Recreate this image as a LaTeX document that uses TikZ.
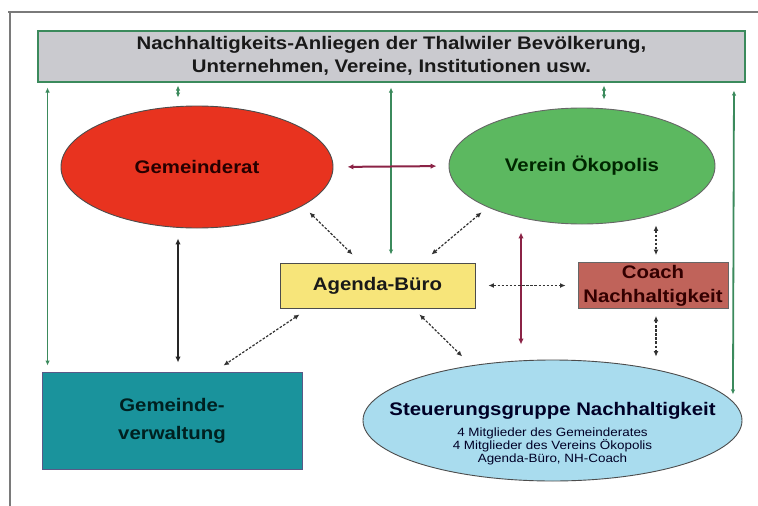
\documentclass[tikz,border=0pt]{standalone}
\usepackage{fontspec}
\setmainfont{Liberation Sans}
\newfontfamily\lsf{Liberation Sans}[FakeStretch=1.12]
\usetikzlibrary{shapes.geometric,arrows.meta}
\definecolor{framegray}{HTML}{7A7A7A}
\definecolor{topfill}{HTML}{CACACF}
\definecolor{grnline}{HTML}{3B8A5C}
\definecolor{redfill}{HTML}{E8331F}
\definecolor{greenfill}{HTML}{5CB860}
\definecolor{yellowfill}{HTML}{F7E57A}
\definecolor{coachfill}{HTML}{C0635A}
\definecolor{tealfill}{HTML}{1A939C}
\definecolor{bluefill}{HTML}{A9DCEE}
\definecolor{maroon}{HTML}{8B2346}
\definecolor{darkline}{HTML}{333333}
\tikzset{
  bigtext/.style={font=\lsf\bfseries\fontsize{18.2}{23}\selectfont, align=center},
  ell/.style={ellipse, draw=#1, line width=0.9pt, inner sep=0pt},
  boxn/.style={rectangle, draw=#1, line width=0.9pt, inner sep=0pt},
  greenarr/.style={draw=grnline, line width=1.8pt, {Latex[length=5pt,width=4.5pt]}-{Latex[length=5pt,width=4.5pt]}},
  maroonarr/.style={draw=maroon, line width=2pt, {Latex[length=6pt,width=5.5pt]}-{Latex[length=6pt,width=5.5pt]}},
  blackarr/.style={draw=black!85, line width=2.2pt, {Latex[length=6pt,width=5.5pt]}-{Latex[length=6pt,width=5.5pt]}},
  dasharr/.style={draw=darkline, line width=1.2pt, dash pattern=on 2.5pt off 1.6pt, {Latex[length=5.5pt,width=5pt]}-{Latex[length=5.5pt,width=5pt]}},
}
\begin{document}
\begin{tikzpicture}[x=1pt,y=-1pt]
\useasboundingbox (0,0) rectangle (758,506);
\fill[white] (0,0) rectangle (758,506);
% outer frame
\draw[framegray, line width=1.5pt] (8,12) -- (758,12);
\draw[framegray, line width=1.5pt] (10,12) -- (10,506);

% nodes
\node[boxn=grnline, line width=2pt, fill=topfill, minimum width=707pt, minimum height=51pt, bigtext, text=black!90] (top) at (391.5,56)
  {Nachhaltigkeits-Anliegen der Thalwiler Bevölkerung,\\Unternehmen, Vereine, Institutionen usw.};
\node[ell=black!70, fill=redfill, minimum width=272pt, minimum height=122pt, bigtext, text=black!85!red] (gr) at (197,167) {Gemeinderat};
\node[ell=black!60, fill=greenfill, minimum width=266pt, minimum height=116pt, bigtext, text=black!85!green] (vo) at (582,166) {Verein Ökopolis};
\node[boxn=black!70, fill=yellowfill, minimum width=195pt, minimum height=45pt, bigtext, text=black!90] (ab) at (377.5,285.5) {Agenda-Büro};
\node[boxn=black!60, fill=coachfill, minimum width=150pt, minimum height=46pt, font=\lsf\bfseries\fontsize{18.2}{24}\selectfont, align=center, text=black!80!red] (co) at (653,285.5) {Coach\\Nachhaltigkeit};
\node[boxn=black!40!blue!30!gray, fill=tealfill, minimum width=260pt, minimum height=97pt, font=\lsf\bfseries\fontsize{18.2}{28}\selectfont, align=center, text=black!75!teal] (gv) at (172,420.5) {Gemeinde-\\verwaltung};
\node[ell=black!70, fill=bluefill, minimum width=379pt, minimum height=121pt] (sg) at (552.5,420.5) {};
\node[font=\lsf\fontsize{12}{12.5}\selectfont, align=center, text=black!85!blue, inner sep=0pt] (sgt) at (552.5,433.5)
  {{\bfseries\fontsize{18.2}{20}\selectfont Steuerungsgruppe Nachhaltigkeit}\\[7pt]4 Mitglieder des Gemeinderates\\4 Mitglieder des Vereins Ökopolis\\Agenda-Büro, NH-Coach};

% green connectors
\draw[greenarr, shorten <=5pt, shorten >=6pt] ([xshift=6pt]gv.north west |- top.south) -- ([xshift=6pt]gv.north west);
\draw[greenarr, shorten <=3pt, shorten >=8pt] ([xshift=-19pt]gr.north |- top.south) -- ([xshift=-19pt]gr.north);
\draw[greenarr, shorten <=5pt, shorten >=8pt] ([xshift=13.5pt]ab.north |- top.south) -- ([xshift=13.5pt]ab.north);
\draw[greenarr, shorten <=3pt, shorten >=8pt] ([xshift=22pt]vo.north |- top.south) -- ([xshift=22pt]vo.north);
\draw[greenarr, shorten <=8pt, shorten >=8pt] ([xshift=-12pt]top.south east) -- ([xshift=-9.5pt,yshift=18pt]sg.east);

% maroon connectors
\draw[maroonarr, shorten <=14pt, shorten >=12pt] (gr.east) -- (vo.west);
\draw[maroonarr, shorten <=8pt, shorten >=15pt] ([xshift=-31.5pt]sg.north |- vo.south) -- ([xshift=-31.5pt]sg.north);

% black connector
\draw[blackarr, shorten <=10pt, shorten >=9pt] ([xshift=6pt]gv.north |- gr.south) -- ([xshift=6pt]gv.north);

% dashed connectors
\draw[dasharr] ([xshift=16pt,yshift=-2pt]gr.south east) -- ([xshift=73pt,yshift=8pt]ab.north west);
\draw[dasharr] ([xshift=-6pt,yshift=-5pt]vo.south west) -- ([xshift=-44pt,yshift=8pt]ab.north east);
\draw[dasharr] ([xshift=20pt,yshift=-6pt]ab.south west) -- ([xshift=-79pt,yshift=6pt]gv.north east);
\draw[dasharr] ([xshift=-56pt,yshift=-6pt]ab.south east) -- ([xshift=44pt,yshift=21pt]sg.north west);
\draw[dasharr, shorten <=13pt, shorten >=12pt] (ab.east) -- (co.west);
\draw[dasharr, shorten <=1pt, shorten >=7pt] ([xshift=3pt]co.north |- vo.south) -- ([xshift=3pt]co.north);
\draw[dasharr, shorten <=7pt, shorten >=3pt] ([xshift=3pt]co.south) -- ([xshift=3pt]co.south |- sg.north);
\end{tikzpicture}
\end{document}
